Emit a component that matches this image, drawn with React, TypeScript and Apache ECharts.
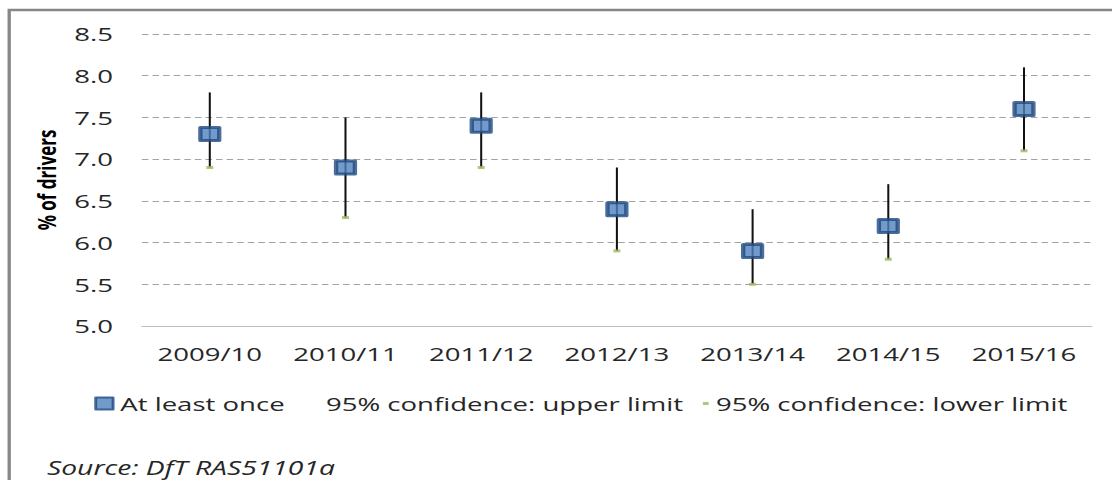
import React, { useEffect, useRef } from "react";
import * as echarts from "echarts";

// ---- data ----
const categories = ["2009/10", "2010/11", "2011/12", "2012/13", "2013/14", "2014/15", "2015/16"];
const atLeastOnce = [7.3, 6.9, 7.4, 6.4, 5.9, 6.2, 7.6];
const upperLimit = [7.8, 7.5, 7.8, 6.9, 6.4, 6.7, 8.1];
const lowerLimit = [6.9, 6.3, 6.9, 5.9, 5.5, 5.8, 7.1];
const yMin = 5.0;
const yMax = 8.5;
const yStep = 0.5;

const seriesNames = {
  main: "At least once",
  upper: "95% confidence: upper limit",
  lower: "95% confidence: lower limit",
};
const sourceText = "Source: DfT RAS51101a";

// the reference is a horizontally stretched chart: render narrower and stretch
const OUT_W = 1112;
const OUT_H = 480;
const INNER_W = 767;
const SX = OUT_W / INNER_W;

const FONT = "Open Sans";
const TEXT = "#262626";

export default function App() {
  const ref = useRef<HTMLDivElement>(null);

  useEffect(() => {
    if (!ref.current) return;
    const chart = echarts.init(ref.current, undefined, { renderer: "svg" });

    const legendBase = {
      orient: "horizontal",
      padding: 0,
      selectedMode: false,
      top: 394,
      textStyle: { fontSize: 19, color: TEXT, fontFamily: FONT },
    };

    const option: any = {
      animation: false,
      backgroundColor: "#ffffff",
      textStyle: { fontFamily: FONT },
      grid: { left: 97.9, right: INNER_W - 753.1, top: 34, bottom: OUT_H - 326 },
      xAxis: {
        type: "category",
        data: categories,
        boundaryGap: true,
        axisLine: { show: true, lineStyle: { color: "#BFBFBF", width: 1 } },
        axisTick: { show: false },
        axisLabel: { fontSize: 19, color: TEXT, margin: 18, fontFamily: FONT, interval: 0 },
        splitLine: { show: false },
      },
      yAxis: {
        type: "value",
        min: yMin,
        max: yMax,
        interval: yStep,
        axisLine: { show: false },
        axisTick: { show: false },
        axisLabel: {
          fontSize: 19,
          color: TEXT,
          margin: 20,
          fontFamily: FONT,
          formatter: (v: number) => v.toFixed(1),
        },
        splitLine: { show: true, lineStyle: { color: "#A3A3A3", width: 1, type: [4.5, 2.8] } },
        name: "% of drivers",
        nameLocation: "middle",
        nameRotate: 90,
        nameGap: 57,
        nameTextStyle: { fontSize: 17, fontWeight: "bold", color: "#000000", fontFamily: FONT },
      },
      legend: [
        {
          ...legendBase,
          left: 65,
          data: [{ name: seriesNames.main, icon: "rect" }],
          itemWidth: 12,
          itemHeight: 12,
          itemStyle: { color: "#4F81BD", borderColor: "#1F4A80", borderWidth: 2, borderJoin: "round" },
        },
        {
          ...legendBase,
          left: 224.8 - 5 - 4,
          data: [{ name: seriesNames.upper, icon: "rect" }],
          itemWidth: 4,
          itemHeight: 3,
          itemStyle: { color: "rgba(0,0,0,0)", borderWidth: 0 },
        },
        {
          ...legendBase,
          left: 493.8 - 5 - 4,
          data: [{ name: seriesNames.lower, icon: "rect" }],
          itemWidth: 4,
          itemHeight: 3,
          itemStyle: { color: "#9BBB59", borderWidth: 0 },
        },
      ],
      graphic: [
        {
          type: "rect",
          silent: true,
          shape: { x: 6.35, y: 10, width: 2000, height: 2000 },
          style: { fill: "none", stroke: "#878787", lineWidth: 2.3 },
          z: -10,
        },
        {
          type: "text",
          silent: true,
          x: 32.4,
          y: 467,
          style: {
            text: sourceText,
            font: `italic 19.5px "${FONT}"`,
            fill: TEXT,
            verticalAlign: "middle",
            align: "left",
          },
        },
      ],
      series: [
        {
          name: "whiskers",
          type: "custom",
          z: 1,
          silent: true,
          data: categories.map((_, i) => [i, upperLimit[i], lowerLimit[i]]),
          encode: { x: 0, y: [1, 2] },
          renderItem: (_params: any, api: any) => {
            const top = api.coord([api.value(0), api.value(1)]);
            const bottom = api.coord([api.value(0), api.value(2)]);
            return {
              type: "line",
              shape: { x1: top[0], y1: top[1], x2: bottom[0], y2: bottom[1] },
              style: { stroke: "#111111", lineWidth: 1.4 },
            };
          },
        },
        {
          name: seriesNames.upper,
          type: "scatter",
          z: 2,
          symbol: "rect",
          symbolSize: 0,
          itemStyle: { color: "rgba(0,0,0,0)" },
          data: upperLimit,
        },
        {
          name: seriesNames.lower,
          type: "scatter",
          z: 2,
          symbol: "rect",
          symbolSize: [4.8, 3],
          itemStyle: { color: "#9BBB59" },
          data: lowerLimit,
        },
        {
          name: seriesNames.main,
          type: "scatter",
          z: 3,
          symbol: "rect",
          symbolSize: 13,
          itemStyle: { color: "#4F81BD", borderColor: "#1F4A80", borderWidth: 3, borderJoin: "round" },
          data: atLeastOnce,
        },
      ],
    };

    chart.setOption(option);
    return () => chart.dispose();
  }, []);

  return (
    <div
      style={{
        position: "fixed",
        left: 0,
        top: 0,
        width: OUT_W,
        height: OUT_H,
        overflow: "hidden",
        background: "#ffffff",
      }}
    >
      <div
        ref={ref}
        style={{
          width: INNER_W,
          height: OUT_H,
          transform: `scaleX(${SX})`,
          transformOrigin: "0 0",
        }}
      />
    </div>
  );
}
